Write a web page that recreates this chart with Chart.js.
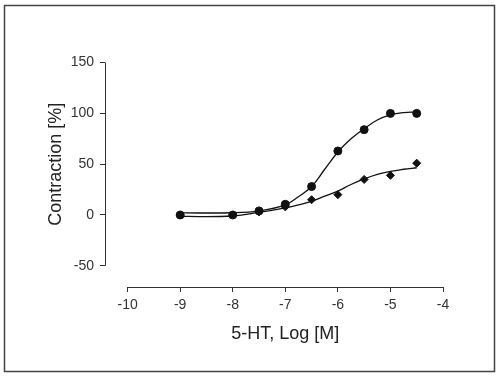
<!DOCTYPE html>
<html><head><meta charset="utf-8">
<script src="https://cdn.jsdelivr.net/npm/chart.js@4/dist/chart.umd.min.js"></script>
<style>html,body{margin:0;padding:0;background:#fff}canvas{display:block}</style>
</head><body>
<canvas id="c" width="500" height="381"></canvas>
<script>
const xTicks = [-10, -9, -8, -7, -6, -5, -4];
const yTicks = [-50, 0, 50, 100, 150];
const circleX = [-9, -8, -7.5, -7, -6.5, -6, -5.5, -5, -4.5];
const circleY = [0, 0, 4, 10.5, 28, 63, 84, 100, 100];
const diamondX = [-9, -8, -7.5, -7, -6.5, -6, -5.5, -5, -4.5];
const diamondY = [0, 0, 3, 8, 15, 20, 35, 39, 51];
const fitX = [-9, -8, -7.5, -7, -6.75, -6.5, -6.25, -6, -5.75, -5.5, -5.25, -5, -4.75, -4.5];
const circleFitY = [2, 2.2, 4, 10, 18, 28, 45, 62, 75, 85, 93.5, 98.5, 100.8, 101.5];
const diamondFitY = [-1.5, -1, 2.5, 7, 10, 13.5, 18.5, 23.5, 30, 35.5, 40, 43, 45, 46.5];
const xTitle = '5-HT, Log [M]';
const yTitle = 'Contraction [%]';

const pts = (xs, ys) => xs.map((x, i) => ({x, y: ys[i]}));
const FONT = '"Liberation Sans", Arial, sans-serif';

const decor = {
  id: 'decor',
  beforeDraw(chart) {
    const c = chart.ctx;
    c.save();
    c.fillStyle = '#fff';
    c.fillRect(0, 0, chart.width, chart.height);
    c.strokeStyle = '#444';
    c.lineWidth = 1.5;
    c.strokeRect(4.5, 5.5, 490, 366);
    c.restore();
  },
  afterDraw(chart) {
    const c = chart.ctx, xs = chart.scales.x, ys = chart.scales.y;
    c.save();
    c.strokeStyle = '#333';
    c.lineWidth = 1;
    const ax = Math.round(xs.left) + 0.5;
    c.beginPath();
    c.moveTo(ax, ys.getPixelForValue(yTicks[yTicks.length - 1]));
    c.lineTo(ax, ys.getPixelForValue(yTicks[0]));
    c.stroke();
    const ay = Math.round(ys.bottom) + 0.5;
    c.beginPath();
    c.moveTo(xs.getPixelForValue(xTicks[0]), ay);
    c.lineTo(xs.getPixelForValue(xTicks[xTicks.length - 1]), ay);
    c.stroke();
    c.fillStyle = '#222';
    c.font = '18px ' + FONT;
    c.textAlign = 'center';
    c.textBaseline = 'middle';
    c.fillText(xTitle, (xs.getPixelForValue(xTicks[0]) + xs.getPixelForValue(xTicks[xTicks.length - 1])) / 2, 334);
    c.translate(56, (ys.getPixelForValue(yTicks[0]) + ys.getPixelForValue(yTicks[yTicks.length - 1])) / 2);
    c.rotate(-Math.PI / 2);
    c.fillText(yTitle, 0, 0);
    c.restore();
  }
};

new Chart(document.getElementById('c'), {
  type: 'scatter',
  data: {
    datasets: [
      {data: pts(fitX, circleFitY), showLine: true, pointRadius: 0, borderColor: '#111', borderWidth: 1.3, tension: 0.4, fill: false},
      {data: pts(fitX, diamondFitY), showLine: true, pointRadius: 0, borderColor: '#111', borderWidth: 1.3, tension: 0.4, fill: false},
      {data: pts(circleX, circleY), pointStyle: 'circle', pointRadius: 4, backgroundColor: '#111', borderColor: '#111', borderWidth: 1},
      {data: pts(diamondX, diamondY), pointStyle: 'rectRot', pointRadius: 4, backgroundColor: '#111', borderColor: '#111', borderWidth: 1}
    ]
  },
  options: {
    responsive: false,
    animation: false,
    devicePixelRatio: 1,
    layout: {padding: {top: 62, right: 57, left: 0, bottom: 0}},
    plugins: {legend: {display: false}, tooltip: {enabled: false}},
    scales: {
      x: {
        type: 'linear', min: -10.43, max: -4,
        afterFit(s) { s.height = 94; },
        afterBuildTicks(s) { s.ticks = xTicks.map(v => ({value: v})); },
        ticks: {font: {size: 14, family: FONT}, color: '#333', padding: 5, maxRotation: 0, autoSkip: false, callback: v => String(v)},
        grid: {drawOnChartArea: false, drawTicks: true, tickLength: 5, color: '#333', tickColor: '#333'},
        border: {display: false}
      },
      y: {
        type: 'linear', min: -70.9, max: 150.6,
        afterFit(s) { s.width = 105; },
        afterBuildTicks(s) { s.ticks = yTicks.map(v => ({value: v})); },
        ticks: {font: {size: 14, family: FONT}, color: '#333', padding: 6, autoSkip: false, callback: v => String(v)},
        grid: {drawOnChartArea: false, drawTicks: true, tickLength: 5, color: '#333', tickColor: '#333'},
        border: {display: false}
      }
    }
  },
  plugins: [decor]
});
</script>
</body></html>
